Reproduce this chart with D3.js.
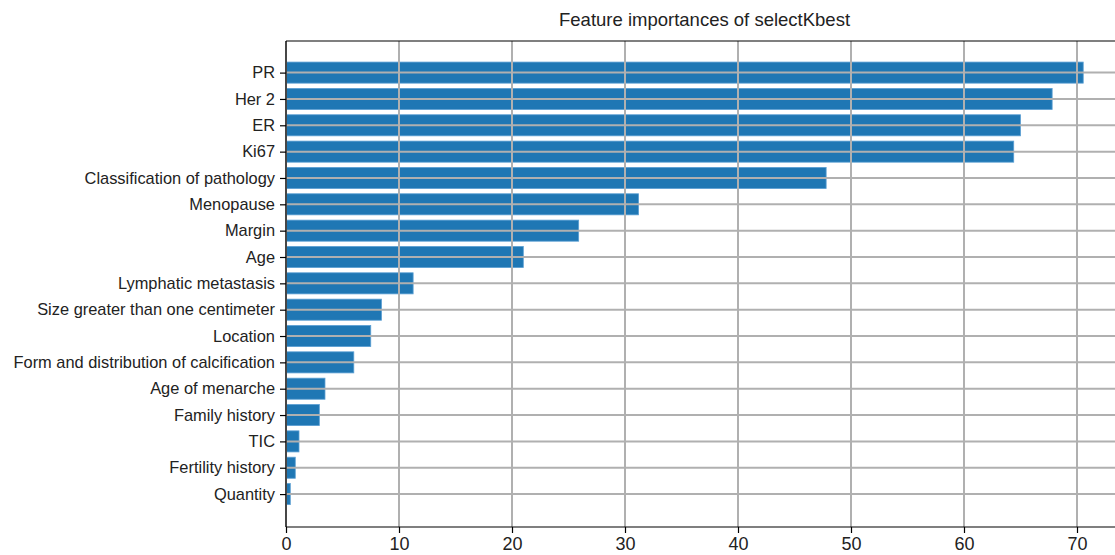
<!DOCTYPE html>
<html>
<head>
<meta charset="utf-8">
<script src="https://cdn.jsdelivr.net/npm/d3@7"></script>
<style>
  html, body { margin: 0; padding: 0; background: #fff; overflow: hidden; }
  svg { display: block; font-family: "Liberation Sans", Arial, Helvetica, sans-serif; }
</style>
</head>
<body>
<svg id="chart" width="1115" height="555"></svg>
<script>
// Feature names, top to bottom
const features = [
  "PR", "Her 2", "ER", "Ki67", "Classification of pathology", "Menopause",
  "Margin", "Age", "Lymphatic metastasis", "Size greater than one centimeter",
  "Location", "Form and distribution of calcification", "Age of menarche",
  "Family history", "TIC", "Fertility history", "Quantity"
];
// SelectKBest scores for each feature
const scores = [
  70.55, 67.8, 65.0, 64.4, 47.8, 31.2,
  25.9, 21.0, 11.25, 8.45,
  7.5, 6.0, 3.45,
  2.95, 1.15, 0.82, 0.38
];
const xTicks = [0, 10, 20, 30, 40, 50, 60, 70];
const title = "Feature importances of selectKbest";

const svg = d3.select("#chart");
const plotLeft = 286, plotTop = 41, plotBottom = 527;
const xMax = d3.max(scores) * 1.05;
const pxPerUnit = 11.3;
const plotRight = plotLeft + xMax * pxPerUnit;

const x = d3.scaleLinear().domain([0, xMax]).range([plotLeft, plotRight]);
const n = features.length;
const y = d3.scaleLinear().domain([-1.2, n - 1 + 1.25]).range([plotTop, plotBottom]);
const band = y(1) - y(0);
const barH = band * 0.8;

const g = svg.append("g");

// bars
g.selectAll("rect.bar").data(features).join("rect")
  .attr("class", "bar")
  .attr("x", x(0))
  .attr("y", (d, i) => y(i) - barH / 2)
  .attr("width", (d, i) => x(scores[i]) - x(0))
  .attr("height", barH)
  .attr("fill", "#1f77b4")
  .attr("stroke", "#5b9fd3")
  .attr("stroke-width", 0.8);

// grid lines drawn above the bars
g.selectAll("line.vgrid").data(xTicks).join("line")
  .attr("x1", d => x(d)).attr("x2", d => x(d))
  .attr("y1", plotTop).attr("y2", plotBottom)
  .attr("stroke", "#b0b0b0").attr("stroke-width", 2);
g.selectAll("line.hgrid").data(features).join("line")
  .attr("x1", plotLeft).attr("x2", plotRight)
  .attr("y1", (d, i) => y(i)).attr("y2", (d, i) => y(i))
  .attr("stroke", "#b0b0b0").attr("stroke-width", 2);

// x axis
const xAxis = d3.axisBottom(x).tickValues(xTicks).tickSize(6).tickPadding(4).tickFormat(d3.format("d"));
const gx = svg.append("g").attr("transform", `translate(0,${plotBottom})`).call(xAxis);
gx.select(".domain").remove();
gx.selectAll(".tick line").attr("stroke", "#000").attr("stroke-width", 1.2);
gx.selectAll(".tick text").attr("font-size", 18).attr("fill", "#222");
gx.attr("font-family", null);

// y axis
const yAxis = d3.axisLeft(y).tickValues(d3.range(n)).tickSize(6).tickPadding(5).tickFormat(i => features[i]);
const gy = svg.append("g").attr("transform", `translate(${plotLeft},0)`).call(yAxis);
gy.select(".domain").remove();
gy.selectAll(".tick line").attr("stroke", "#000").attr("stroke-width", 1.2);
gy.selectAll(".tick text").attr("font-size", 16.4).attr("fill", "#222");
gy.attr("font-family", null);

// spines
const spines = [
  [plotLeft, plotTop, plotRight, plotTop],
  [plotLeft, plotBottom, plotRight, plotBottom],
  [plotLeft, plotTop, plotLeft, plotBottom],
  [plotRight, plotTop, plotRight, plotBottom]
];
svg.selectAll("line.spine").data(spines).join("line")
  .attr("class", "spine")
  .attr("x1", d => d[0]).attr("y1", d => d[1])
  .attr("x2", d => d[2]).attr("y2", d => d[3])
  .attr("stroke", "#000").attr("stroke-width", 1.2);

// title
svg.append("text")
  .attr("x", (plotLeft + plotRight) / 2).attr("y", 26)
  .attr("text-anchor", "middle")
  .attr("font-size", 18.5).attr("fill", "#222")
  .text(title);
</script>
</body>
</html>
